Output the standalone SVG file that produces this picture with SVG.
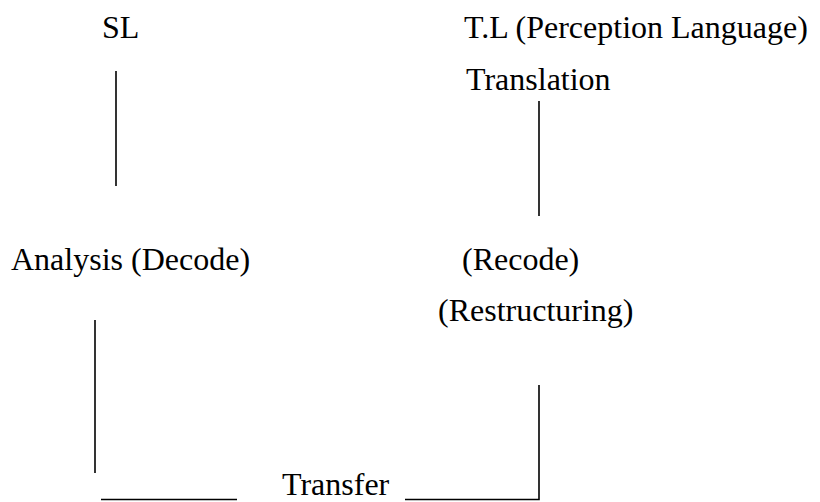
<svg xmlns="http://www.w3.org/2000/svg" width="820" height="502" viewBox="0 0 820 502">
<style>
.t{font-family:"Liberation Serif","Times New Roman",serif;font-size:32px;fill:#000}
.c{stroke:#000;stroke-width:1.6;fill:none}
</style>
<rect width="820" height="502" fill="#fff"/>
<g id="sl"><text class="t" x="102" y="38">SL</text></g>
<g id="tl"><text class="t" x="464" y="38">T.L (Perception Language)</text></g>
<g id="translation"><text class="t" x="466" y="90">Translation</text></g>
<g id="analysis"><text class="t" x="11" y="270">Analysis (Decode)</text></g>
<g id="recode"><text class="t" x="462" y="270">(Recode)</text></g>
<g id="restructuring"><text class="t" x="438" y="321">(Restructuring)</text></g>
<g id="transfer"><text class="t" x="282" y="495">Transfer</text></g>
<g id="connectors">
<line class="c" x1="116" y1="71" x2="116" y2="186"/>
<line class="c" x1="539" y1="101" x2="539" y2="216"/>
<line class="c" x1="95" y1="320" x2="95" y2="473"/>
<line class="c" x1="101" y1="499.5" x2="237" y2="499.5"/>
<polyline class="c" points="405,499.5 539,499.5 539,385"/>
</g>
</svg>
